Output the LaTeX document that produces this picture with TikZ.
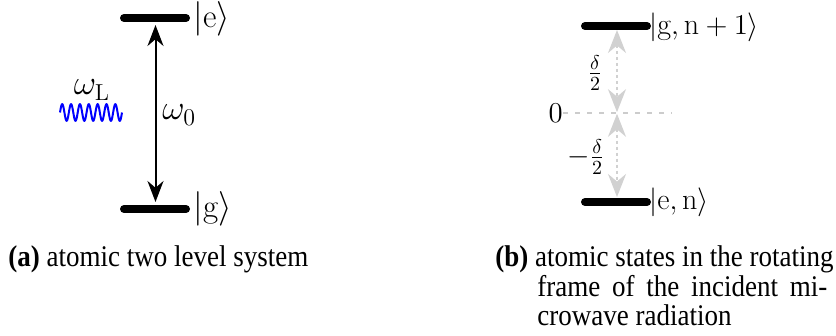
\documentclass[tikz,border=0pt]{standalone}
\usepackage{fontspec}
\newfontfamily\capfont[FakeStretch=0.9]{Liberation Serif}
\usetikzlibrary{arrows.meta}
\begin{document}
\begin{tikzpicture}[x=0.5pt,y=-0.5pt,
  level/.style={line width=4pt, line cap=round},
  lbla/.style={anchor=west, inner sep=0pt, font=\fontsize{16.5}{20}\selectfont},
  lblb/.style={anchor=west, inner sep=0pt, font=\fontsize{15}{18}\selectfont},
  lblc/.style={inner sep=0pt, font=\fontsize{14.4}{17}\selectfont},
  captxt/.style={anchor=base west, inner sep=0pt, font=\capfont\fontsize{15}{14.5}\selectfont},
  trans/.style={line width=1pt, {Stealth[length=10.5pt,width=8pt]}-{Stealth[length=10.5pt,width=8pt]}},
  detun/.style={line width=0.8pt, color=black!18, dash pattern=on 1.5pt off 1.5pt,
    {Stealth[length=11.5pt,width=9pt]}-{Stealth[length=11.5pt,width=9pt]}},
  zeroline/.style={line width=0.75pt, color=black!20, dash pattern=on 2.5pt off 3.5pt},
  wave/.style={line width=1pt, color=blue}
]
\useasboundingbox (0,0) rectangle (836,336);

% ---------- panel (a)
\coordinate (ea) at (124,18);
\coordinate (eb) at (186,18);
\coordinate (ga) at (124,209);
\coordinate (gb) at (186,209);
\draw[level] (ea) -- (eb);
\draw[level] (ga) -- (gb);
\node[lbla] (ke) at (193,18.5) {$|\mathrm{e}\rangle$};
\node[lbla] (kg) at (193,209) {$|\mathrm{g}\rangle$};
\coordinate (atop) at (155.5,25);
\coordinate (abot) at (155.5,202);
\draw[trans] (atop) -- (abot);
\node[lbla] (w0) at (162,115) {$\omega_0$};
\node[inner sep=0pt, font=\fontsize{16.5}{20}\selectfont] (wl) at (92,90) {$\omega_{\mathrm{L}}$};
\draw[wave] plot[domain=0:62, samples=300, smooth] ({\x+60}, {112.5 - 8.3*sin(\x*40.646)});

% ---------- panel (b)
\coordinate (ua) at (585,26);
\coordinate (ub) at (647,26);
\coordinate (la) at (585,202);
\coordinate (lb) at (647,202);
\draw[level] (ua) -- (ub);
\draw[level] (la) -- (lb);
\node[lblb] (kgn) at (649,27) {$|\mathrm{g},\mathrm{n}+1\rangle$};
\node[lblb] (ken) at (649,202) {$|\mathrm{e},\mathrm{n}\rangle$};
\node[lblc, anchor=east] (zero) at (563,113) {$0$};
\coordinate (zend) at (672,113);
\draw[zeroline] (zero.east) -- (zend);
\coordinate (dtop) at (617,30);
\coordinate (dmid) at (617,113);
\coordinate (dbot) at (617,197);
\draw[detun] (dtop) -- ([yshift=0.4pt]dmid);
\draw[detun] ([yshift=-0.4pt]dmid) -- (dbot);
\node[lblc] (dp) at (595,73) {$\frac{\delta}{2}$};
\node[lblc] (dm) at (586,157) {$-\frac{\delta}{2}$};

% ---------- captions
\node[captxt] (capa) at (8,267) {\textbf{(a)} atomic two level system};
\node[captxt] (capb1) at (495,267) {\textbf{(b)} atomic states in the rotating};
\node[captxt] (capb2) at (537,296.5) {\hbox to 145pt{frame\hfill of\hfill the\hfill incident\hfill mi-}};
\node[captxt] (capb3) at (537,326) {crowave radiation};
\end{tikzpicture}
\end{document}
